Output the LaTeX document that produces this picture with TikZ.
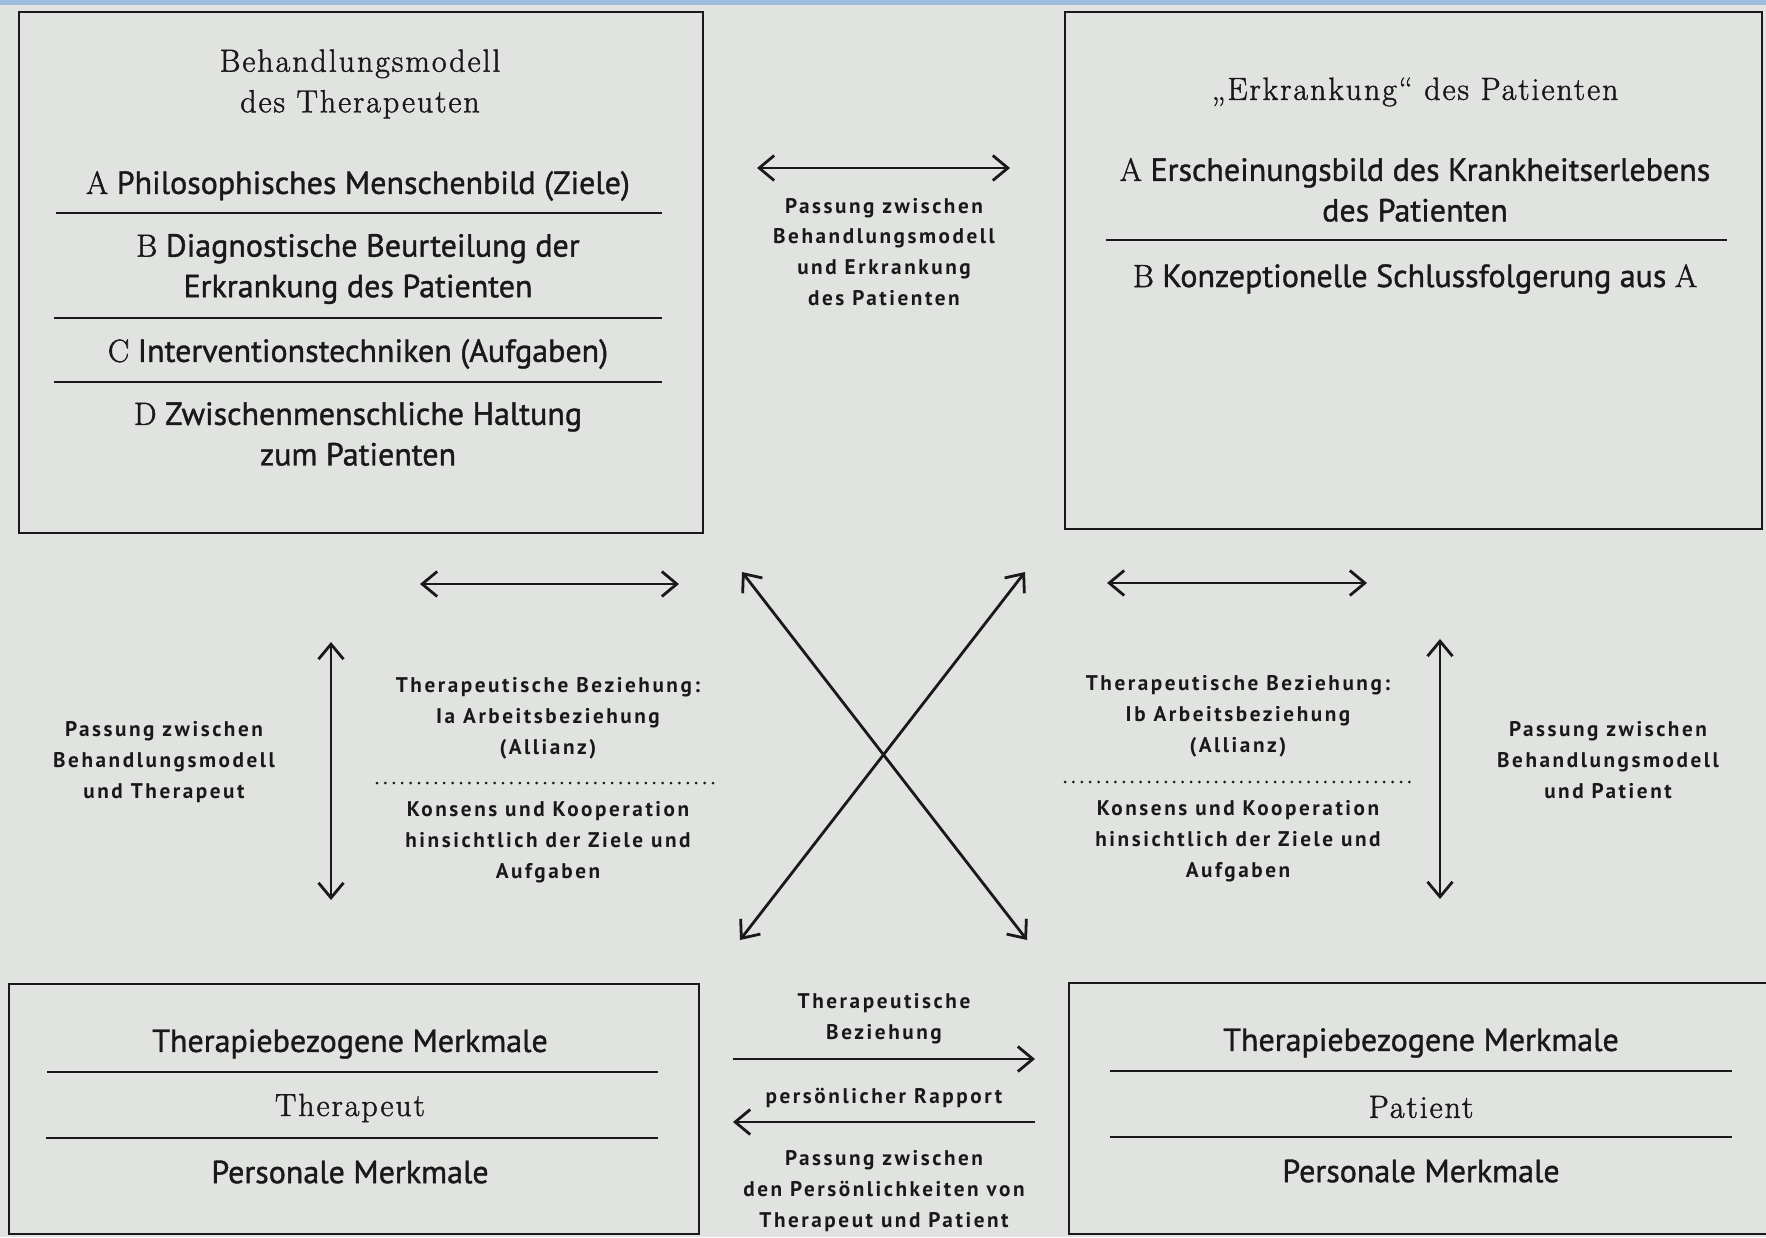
\documentclass[tikz,border=0pt]{standalone}
\usepackage{fontspec}
\setsansfont{PT Sans}[FakeBold=1.2]
\newfontfamily\ttlfont{Latin Modern Roman}[LetterSpace=6,FakeBold=1.4]
\newfontfamily\capfont{Latin Modern Roman}[FakeBold=1.6]
\newfontfamily\notefont{PT Sans}[LetterSpace=12]
\usetikzlibrary{arrows.meta,fit}
\definecolor{InkClr}{RGB}{25,25,25}
\definecolor{PaperClr}{RGB}{224,227,223}
\definecolor{StripClr}{RGB}{158,188,224}

\begin{document}
\begin{tikzpicture}[x=0.5pt,y=-0.5pt,
  frame/.style={draw=InkClr,line width=1.4pt,inner sep=0pt},
  rule/.style={draw=InkClr,line width=1.4pt},
  dotrule/.style={draw=InkClr,line width=1.5pt,line cap=round,dash pattern=on 0pt off 4.2pt},
  link/.style={draw=InkClr,line width=1.4pt,{Straight Barb[length=7.5pt,width=12.5pt]}-{Straight Barb[length=7.5pt,width=12.5pt]}},
  oneway/.style={draw=InkClr,line width=1.4pt,-{Straight Barb[length=7.5pt,width=12.5pt]}},
  ttl/.style={text=InkClr,align=center,font=\ttlfont\fontsize{16}{20.3}\selectfont},
  item/.style={text=InkClr,align=center,font=\sffamily\fontsize{16}{20.3}\selectfont},
  note/.style={text=InkClr,align=center,font=\notefont\bfseries\fontsize{10.6}{15.4}\selectfont}]

\fill[PaperClr] (0,0) rectangle (1766,1237);
\clip (0,0) rectangle (1766,1237);
\fill[StripClr] (0,0) rectangle (1766,5);

\node[frame,fit={(19,12)(703,533)}] (modell) {};
\node[frame,fit={(1065,12)(1762,529)}] (erkrankung) {};
\node[frame,fit={(9,984)(699,1234)}] (therapeut) {};
\node[frame,fit={(1069,983)(1780,1234)}] (patient) {};

\node[ttl] (modelltitel) at (360,84) {Behandlungsmodell\\des Therapeuten};
\node[item] (zielA) at (358,186) {{\capfont A} Philosophisches Menschenbild (Ziele)};
\draw[rule] (56,213) -- (662,213);
\node[item] (zielB) at (358,269) {{\capfont B} Diagnostische Beurteilung der\\Erkrankung des Patienten};
\draw[rule] (54,318) -- (662,318);
\node[item] (zielC) at (358,354) {{\capfont C} Interventionstechniken (Aufgaben)};
\draw[rule] (54,382) -- (662,382);
\node[item] (zielD) at (358,434) {{\capfont D} Zwischenmenschliche Haltung\\zum Patienten};

\node[ttl] (erkrtitel) at (1415,92) {„Erkrankung“ des Patienten};
\node[item] (bildA) at (1415,190) {{\capfont A} Erscheinungsbild des Krankheitserlebens\\des Patienten};
\draw[rule] (1106,240) -- (1727,240);
\node[item] (schlussB) at (1415,279) {{\capfont B} Konzeptionelle Schlussfolgerung aus {\capfont A}};

\coordinate (obenL) at (757,168);
\coordinate (obenR) at (1010,168);
\draw[link] (obenL) -- (obenR);
\node[note] (passungoben) at (884,252) {Passung zwischen\\Behandlungsmodell\\und Erkrankung\\des Patienten};

\coordinate (mitteLl) at (420,584);
\coordinate (mitteLr) at (679,584);
\coordinate (mitteRl) at (1107,583);
\coordinate (mitteRr) at (1367,583);
\draw[link] (mitteLl) -- (mitteLr);
\draw[link] (mitteRl) -- (mitteRr);

\coordinate (kreuzNW) at (742,572);
\coordinate (kreuzSE) at (1027,940);
\coordinate (kreuzNE) at (1025,572);
\coordinate (kreuzSW) at (740,940);
\draw[link] (kreuzNW) -- (kreuzSE);
\draw[link] (kreuzNE) -- (kreuzSW);

\coordinate (vertLo) at (331,642);
\coordinate (vertLu) at (331,900);
\coordinate (vertRo) at (1440,639);
\coordinate (vertRu) at (1440,899);
\draw[link] (vertLo) -- (vertLu);
\draw[link] (vertRo) -- (vertRu);

\node[note] (passungL) at (164,762) {Passung zwischen\\Behandlungsmodell\\und Therapeut};
\node[note] (allianzL) at (548,718) {Therapeutische Beziehung:\\Ia Arbeitsbeziehung\\(Allianz)};
\draw[dotrule] (377,783) -- (717,783);
\node[note] (konsensL) at (548,842) {Konsens und Kooperation\\hinsichtlich der Ziele und\\Aufgaben};

\node[note] (allianzR) at (1238,716) {Therapeutische Beziehung:\\Ib Arbeitsbeziehung\\(Allianz)};
\draw[dotrule] (1065,782) -- (1410,782);
\node[note] (konsensR) at (1238,841) {Konsens und Kooperation\\hinsichtlich der Ziele und\\Aufgaben};
\node[note] (passungR) at (1608,760) {Passung zwischen\\Behandlungsmodell\\und Patient};

\coordinate (rechtsA) at (733,1059);
\coordinate (rechtsB) at (1035,1059);
\coordinate (linksA) at (1035,1122);
\coordinate (linksB) at (733,1122);
\node[note] (beziehung) at (884,1019) {Therapeutische\\Beziehung};
\draw[oneway] (rechtsA) -- (rechtsB);
\node[note] (rapport) at (884,1098) {persönlicher Rapport};
\draw[oneway] (linksA) -- (linksB);
\node[note] (passungunten) at (884,1191) {Passung zwischen\\den Persönlichkeiten von\\Therapeut und Patient};

\node[item] (merkmalT) at (350,1044) {Therapiebezogene Merkmale};
\draw[rule] (47,1072) -- (658,1072);
\node[ttl] (therapeutname) at (350,1108) {Therapeut};
\draw[rule] (46,1138) -- (658,1138);
\node[item] (personT) at (350,1172) {Personale Merkmale};

\node[item] (merkmalP) at (1421,1043) {Therapiebezogene Merkmale};
\draw[rule] (1110,1071) -- (1732,1071);
\node[ttl] (patientname) at (1421,1107) {Patient};
\draw[rule] (1110,1137) -- (1732,1137);
\node[item] (personP) at (1421,1171) {Personale Merkmale};

\end{tikzpicture}
\end{document}
